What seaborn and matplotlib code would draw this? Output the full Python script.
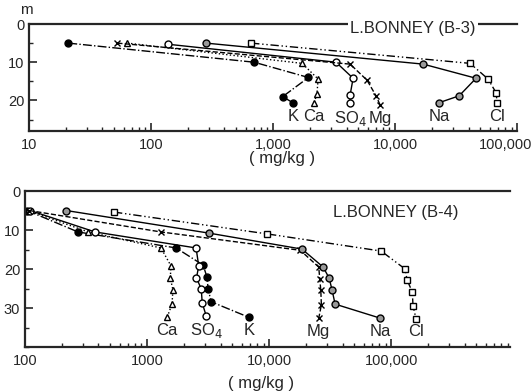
import matplotlib
matplotlib.use("Agg")
import matplotlib.pyplot as plt
import matplotlib.ticker as mticker
import matplotlib.transforms as mtransforms
import pandas as pd
import seaborn as sns

sns.set_style("ticks")
plt.rcParams['font.family'] = ['Liberation Sans', 'DejaVu Sans']

# ion names as printed under each profile
ion_labels = ["K", "Ca", "SO$_4$", "Mg", "Na", "Cl"]

# L. Bonney B-3: concentration (mg/kg) and depth (m)
b3_K = [21, 700, 1950, 1200, 1450]
b3_K_depth = [5, 10, 14, 19, 20.6]
b3_Ca = [64, 1730, 2340, 2290, 2170]
b3_Ca_depth = [5, 10.3, 14.4, 18.3, 20.6]
b3_SO4 = [138, 3280, 4530, 4280, 4280]
b3_SO4_depth = [5.3, 10, 14.2, 18.6, 20.6]
b3_Mg = [53, 4280, 5890, 6980, 7540]
b3_Mg_depth = [5, 10.5, 14.7, 18.8, 21.2]
b3_Na = [282, 17000, 46100, 33500, 22900]
b3_Na_depth = [5, 10.5, 14.2, 18.8, 20.6]
b3_Cl = [661, 41200, 57800, 67300, 68600]
b3_Cl_depth = [5, 10.3, 14.4, 18, 20.6]

# L. Bonney B-4
b4_K = [104, 272, 1730, 2880, 3090, 3170, 3350, 6850]
b4_K_depth = [5, 10.5, 14.6, 19, 22, 25.2, 28.4, 32.4]
b4_Ca = [106, 330, 1300, 1570, 1550, 1630, 1600, 1460]
b4_Ca_depth = [5, 10.5, 14.6, 19.2, 22.3, 25.4, 29, 32.4]
b4_SO4 = [110, 375, 2520, 2650, 2540, 2780, 2830, 3050]
b4_SO4_depth = [5, 10.5, 14.6, 19.2, 22.3, 25.1, 28.7, 32]
b4_Mg = [108, 1300, 18000, 25500, 26000, 26500, 26800, 25500]
b4_Mg_depth = [5, 10.5, 15.2, 19.5, 22.6, 25.4, 29.2, 32.6]
b4_Na = [217, 3220, 18600, 27700, 31000, 32800, 34700, 81300]
b4_Na_depth = [5, 10.8, 14.9, 19.5, 22.3, 25.4, 29, 32.6]
b4_Cl = [536, 9640, 82800, 130000, 135000, 149000, 151000, 160000]
b4_Cl_depth = [5.4, 11, 15.4, 20, 22.8, 25.9, 29.5, 32.8]

b3_ticks = ["10", "100", "1,000", "10,000", "100,000"]
b4_ticks = ["100", "1000", "10,000", "100,000"]

# marker / line style per ion
styles = {
    "K": dict(marker="o", mfc="black", linestyle="-."),
    "Ca": dict(marker="^", mfc="white", linestyle=":"),
    "SO$_4$": dict(marker="o", mfc="white", linestyle="-"),
    "Mg": dict(marker="x", mfc="black", linestyle="--"),
    "Na": dict(marker="o", mfc="0.6", linestyle="-"),
    "Cl": dict(marker="s", mfc="white", linestyle=(0, (6, 2, 1, 2, 1, 2))),
}


def make_df(vals, depths):
    frames = []
    for name, v, d in zip(ion_labels, vals, depths):
        frames.append(pd.DataFrame({"ion": name, "conc": v, "depth": d}))
    return pd.concat(frames, ignore_index=True)


def draw_panel(ax, df, xlim, ylim, ticks, tick_labels, title, title_pos, label_off):
    for name in ion_labels:
        sub = df[df["ion"] == name]
        st = styles[name]
        sns.lineplot(data=sub, x="conc", y="depth", ax=ax, sort=False,
                     estimator=None, color="black", linewidth=1.0,
                     marker=st["marker"], markersize=5, markerfacecolor=st["mfc"],
                     markeredgecolor="black", markeredgewidth=1.0,
                     linestyle=st["linestyle"])
        ax.annotate(name, xy=(sub["conc"].iloc[-1], sub["depth"].iloc[-1]),
                    xytext=(0, -label_off), textcoords="offset points",
                    ha="center", va="top", fontsize=12)
    ax.set_xscale("log")
    ax.set_xlim(*xlim)
    ax.set_ylim(*ylim)
    ax.set_xticks(ticks)
    ax.set_xticklabels(tick_labels)
    ax.xaxis.set_minor_locator(mticker.LogLocator(base=10, subs=range(2, 10)))
    ax.xaxis.set_minor_formatter(mticker.NullFormatter())
    ax.set_yticks([t for t in [0, 10, 20, 30] if t < ylim[0] - 5])
    ax.yaxis.set_minor_locator(mticker.MultipleLocator(5))
    ax.tick_params(direction="in", which="major", length=6, width=1.2, labelsize=10.5)
    ax.tick_params(axis="x", pad=5)
    ax.tick_params(direction="in", which="minor", length=3, width=1)
    ax.tick_params(top=False, right=False, which="both")
    ax.set_xlabel("")
    ax.set_ylabel("")
    for s in ["left", "bottom", "top"]:
        ax.spines[s].set_linewidth(1.6)
    ax.spines["right"].set_visible(False)
    ax.text(title_pos[0], title_pos[1], title, transform=ax.transAxes,
            ha="center", va="center", fontsize=12,
            bbox=dict(facecolor="white", edgecolor="none", pad=1.5))


fig = plt.figure(figsize=(5.32, 3.91), dpi=100)
ax1 = fig.add_axes([0.0545, 0.665, 0.9175, 0.2736])
ax2 = fig.add_axes([0.047, 0.1125, 0.912, 0.399])

df3 = make_df([b3_K, b3_Ca, b3_SO4, b3_Mg, b3_Na, b3_Cl],
              [b3_K_depth, b3_Ca_depth, b3_SO4_depth, b3_Mg_depth, b3_Na_depth, b3_Cl_depth])
df4 = make_df([b4_K, b4_Ca, b4_SO4, b4_Mg, b4_Na, b4_Cl],
              [b4_K_depth, b4_Ca_depth, b4_SO4_depth, b4_Mg_depth, b4_Na_depth, b4_Cl_depth])

draw_panel(ax1, df3, (10, 100000), (28, 0), [10, 100, 1000, 10000, 100000], b3_ticks,
           "L.BONNEY (B-3)", (0.787, 0.96), 4.5)
draw_panel(ax2, df4, (100, 944000), (40, 0), [100, 1000, 10000, 100000], b4_ticks,
           "L.BONNEY (B-4)", (0.765, 0.86), 4)

# last top label sits against the right edge, nudge it left like the scan
last = ax1.get_xticklabels()[-1]
last.set_transform(last.get_transform() +
                   mtransforms.ScaledTranslation(-0.12, 0, fig.dpi_scale_trans))

fig.text(0.05, 0.975, "m", ha="center", va="center", fontsize=11)
fig.text(0.53, 0.594, "( mg/kg )", ha="center", va="center", fontsize=12)
fig.text(0.49, 0.02, "( mg/kg )", ha="center", va="center", fontsize=12)

fig.savefig("out.png", dpi=100)
